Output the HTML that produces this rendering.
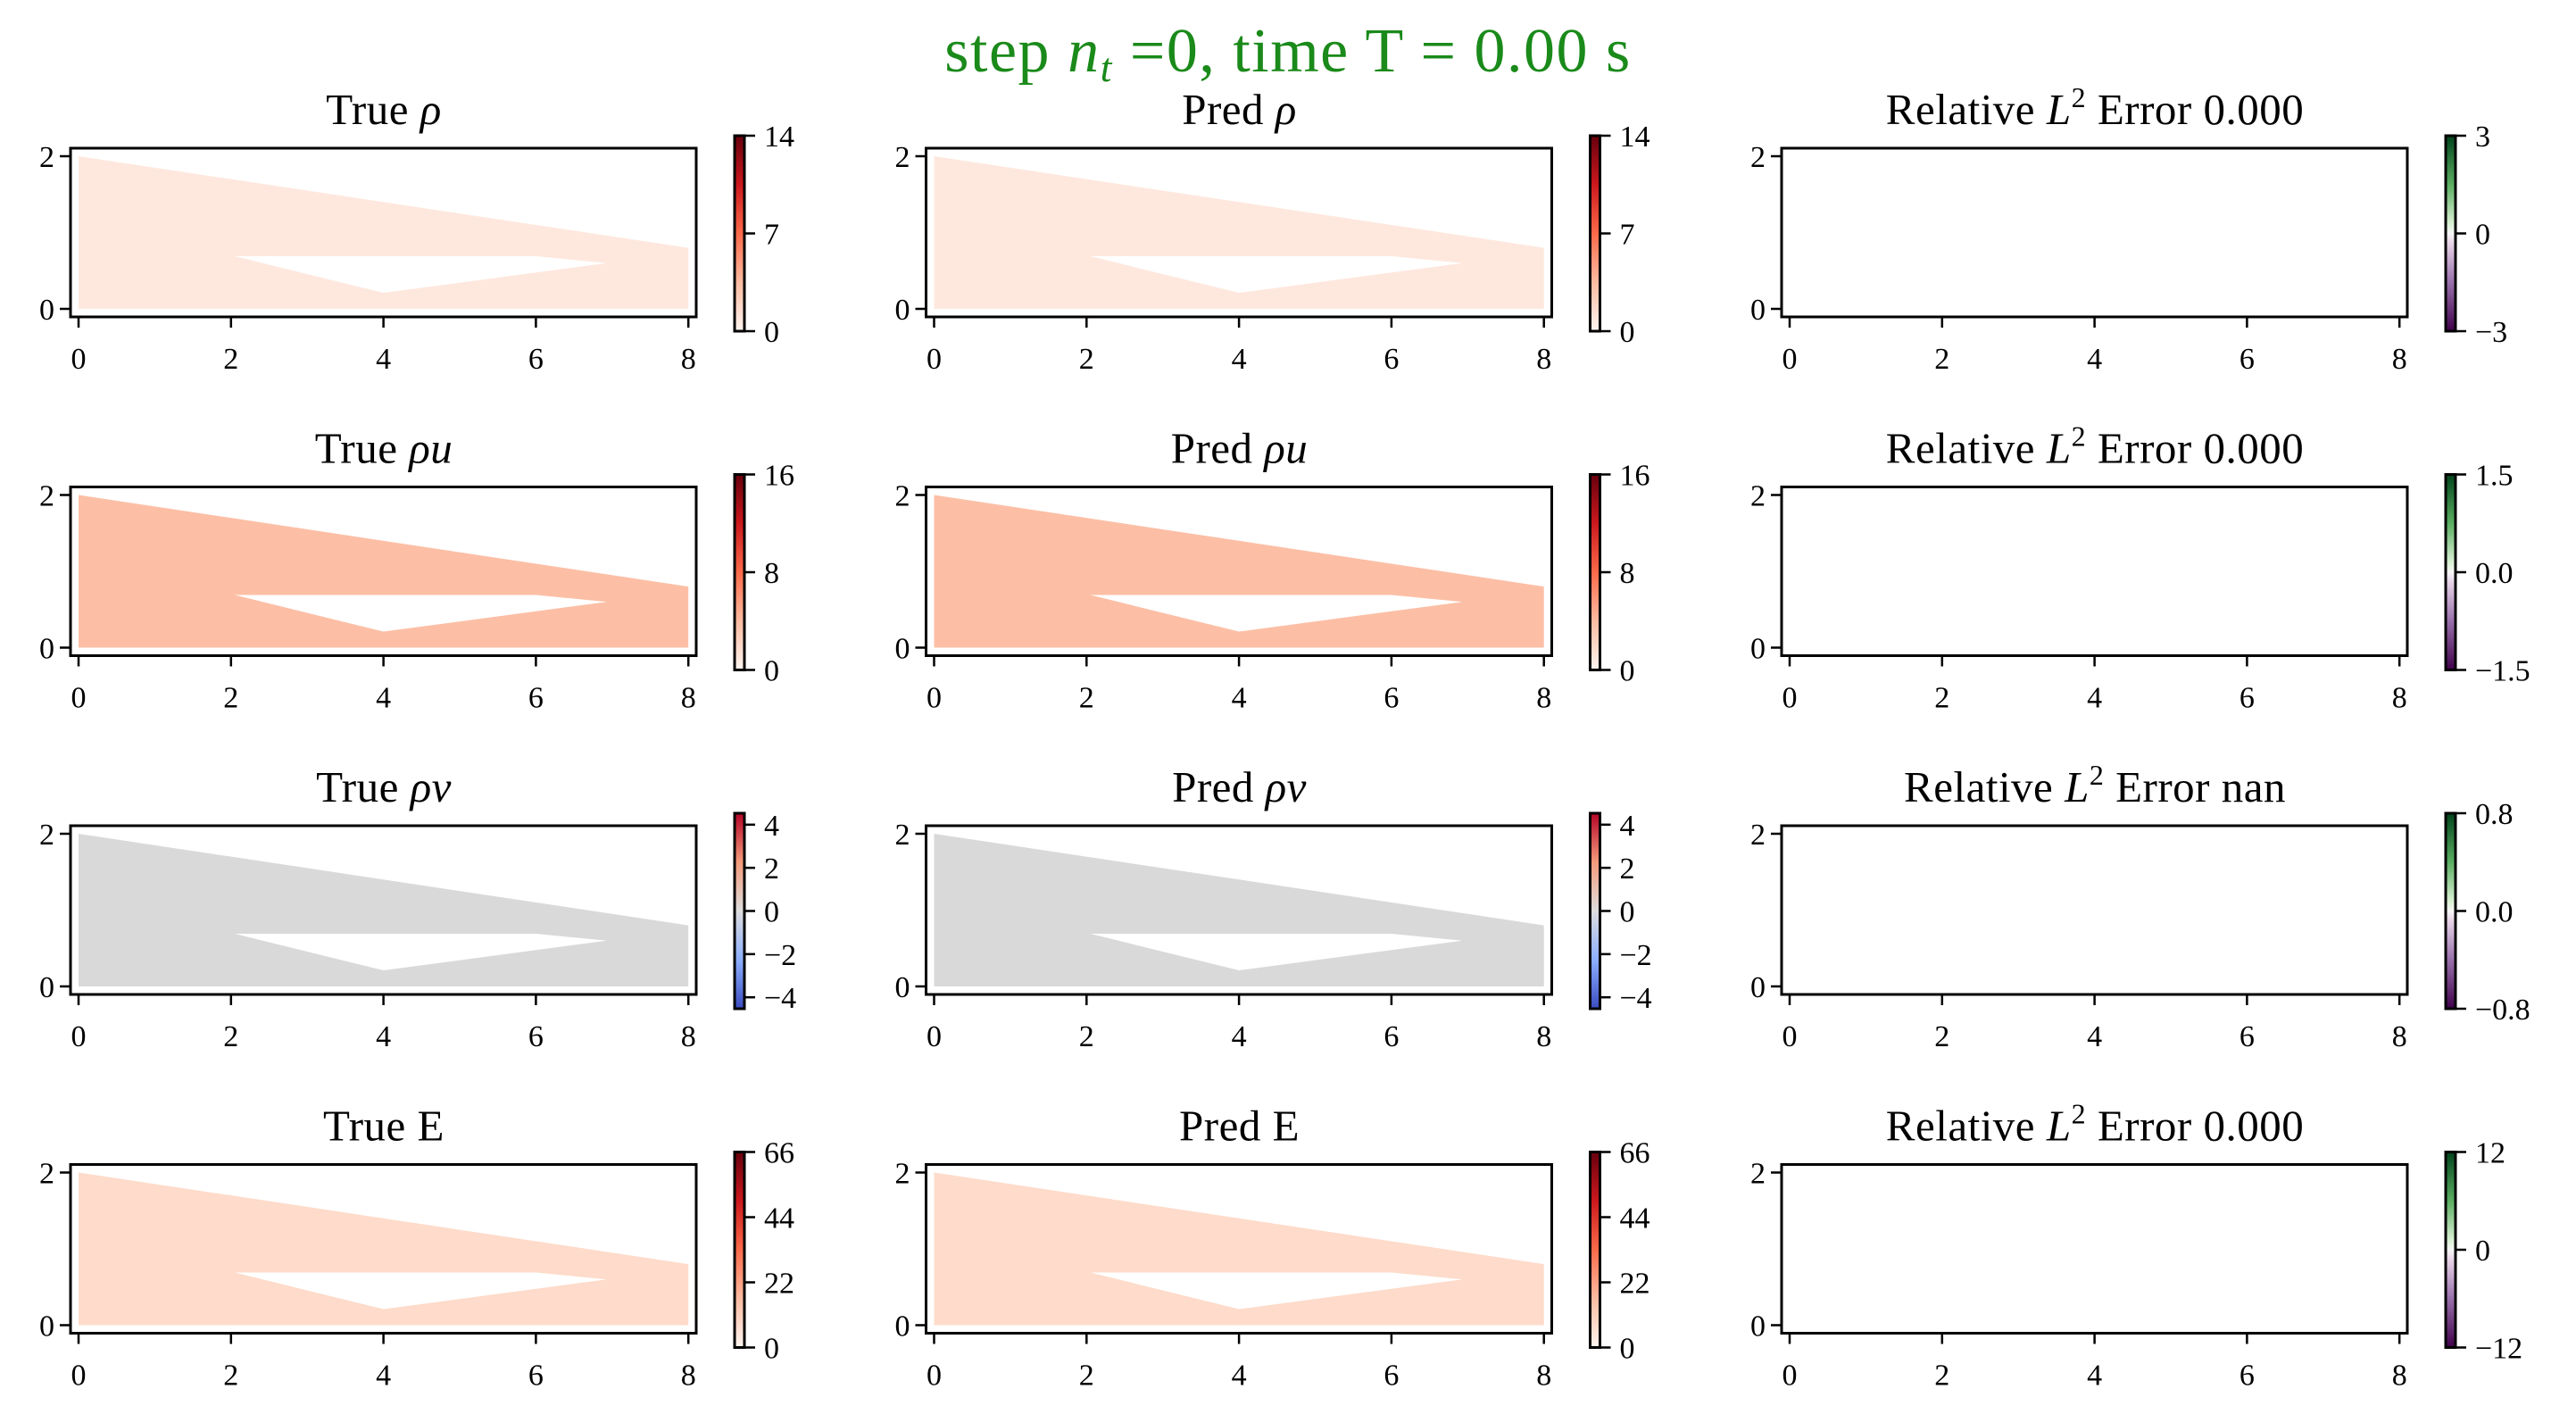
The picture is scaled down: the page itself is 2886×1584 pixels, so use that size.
<!DOCTYPE html>
<html><head><meta charset="utf-8"><style>
html,body{margin:0;padding:0;background:#fff;}
svg{display:block;font-family:"Liberation Serif",serif;}
</style></head><body>
<svg id="s" width="2886" height="1584" xmlns="http://www.w3.org/2000/svg">
<defs>
<linearGradient id="reds" x1="0" y1="1" x2="0" y2="0">
<stop offset="0" stop-color="#fff5f0"/><stop offset="0.25" stop-color="#fcbba1"/><stop offset="0.5" stop-color="#fb6a4a"/><stop offset="0.75" stop-color="#cb181d"/><stop offset="1" stop-color="#67000d"/></linearGradient>
<linearGradient id="prgn" x1="0" y1="1" x2="0" y2="0">
<stop offset="0" stop-color="#40004b"/><stop offset="0.25" stop-color="#9970ab"/><stop offset="0.45" stop-color="#e7d4e8"/><stop offset="0.5" stop-color="#f7f7f7"/><stop offset="0.55" stop-color="#d9f0d3"/><stop offset="0.75" stop-color="#5aae61"/><stop offset="1" stop-color="#00441b"/></linearGradient>
<linearGradient id="cw" x1="0" y1="1" x2="0" y2="0">
<stop offset="0" stop-color="#3b4cc0"/><stop offset="0.25" stop-color="#8db0fe"/><stop offset="0.5" stop-color="#dddddd"/><stop offset="0.75" stop-color="#f49a7b"/><stop offset="1" stop-color="#b40426"/></linearGradient>
</defs>
<text x="1443" y="80" font-size="70" fill="#1a8a1a" text-anchor="middle" letter-spacing="1.5">step <tspan font-style="italic">n</tspan><tspan font-style="italic" font-size="46" dy="11">t</tspan><tspan dy="-11"> =0, time T = 0.00 s</tspan></text>
</svg>
<script>
var s=document.getElementById('s'),h='';
var colL=[79,1037.5,1996],rowT=[166,545.5,925,1304.5],W=701,H=189;
var names=[['True <tspan font-style="italic">ρ</tspan>','Pred <tspan font-style="italic">ρ</tspan>'],
['True <tspan font-style="italic">ρu</tspan>','Pred <tspan font-style="italic">ρu</tspan>'],
['True <tspan font-style="italic">ρv</tspan>','Pred <tspan font-style="italic">ρv</tspan>'],
['True E','Pred E']];
var errs=['0.000','0.000','nan','0.000'];
var fills=['#fee8de','#fcbfa6','#d9d9d9','#fedbca'];
var cbt=[[[0,7,14],0,14],[[0,8,16],0,16],[[-4,-2,0,2,4],-4.53,4.53],[[0,22,44,66],0,66]];
var cbe=[[[-3,0,3],-3,3],[['−1.5','0.0','1.5'],-1.5,1.5,[-1.5,0,1.5]],[['−0.8','0.0','0.8'],-0.8,0.8,[-0.8,0,0.8]],[[-12,0,12],-12,12]];
function lab(v){return typeof v==='number'?(v<0?'−'+(-v):''+v):v;}
for(var r=0;r<4;r++)for(var c=0;c<3;c++){
 var L=colL[c],T=rowT[r];
 var X=function(x){return L+9+x*85.4;},Y=function(y){return T+180-y*85.5;};
 var title=c<2?names[r][c]:'Relative <tspan font-style="italic">L</tspan><tspan font-size="32" dy="-19">2</tspan><tspan dy="19"> Error '+errs[r]+'</tspan>';
 h+='<text x="'+(L+351)+'" y="'+(T-27)+'" font-size="49" text-anchor="middle" letter-spacing="0.5">'+title+'</text>';
 if(c<2){
  var P=[[0,0],[0,2],[8,0.8],[8,0]].map(function(p){return X(p[0])+','+Y(p[1]);}).join(' ');
  var Q=[[2.05,0.69],[6,0.69],[6.93,0.6],[4,0.21]].map(function(p){return X(p[0])+','+Y(p[1]);}).join(' ');
  h+='<polygon points="'+P+'" fill="'+fills[r]+'"/><polygon points="'+Q+'" fill="#fff"/>';
 }
 h+='<rect x="'+L+'" y="'+T+'" width="'+W+'" height="'+H+'" fill="none" stroke="#000" stroke-width="3"/>';
 for(var i=0;i<=8;i+=2){var x=X(i);h+='<line x1="'+x+'" y1="'+(T+H)+'" x2="'+x+'" y2="'+(T+H+12)+'" stroke="#000" stroke-width="2.5"/><text x="'+x+'" y="'+(T+H+58)+'" font-size="34" text-anchor="middle">'+i+'</text>';}
 [0,2].forEach(function(i){var y=Y(i);h+='<line x1="'+(L-12)+'" y1="'+y+'" x2="'+L+'" y2="'+y+'" stroke="#000" stroke-width="2.5"/><text x="'+(L-18)+'" y="'+(y+12)+'" font-size="34" text-anchor="end">'+i+'</text>';});
 var cb=c<2?cbt[r]:cbe[r],grad=c==2?'prgn':(r==2?'cw':'reds');
 var cx=L+744,cy=T-14,ch=219,cw=11;
 h+='<rect x="'+cx+'" y="'+cy+'" width="'+cw+'" height="'+ch+'" fill="url(#'+grad+')" stroke="#000" stroke-width="3"/>';
 var vals=cb[3]||cb[0];
 for(var k=0;k<vals.length;k++){var v=vals[k];var y=cy+ch-(v-cb[1])/(cb[2]-cb[1])*ch;
  h+='<line x1="'+(cx+cw)+'" y1="'+y+'" x2="'+(cx+cw+12)+'" y2="'+y+'" stroke="#000" stroke-width="2.5"/><text x="'+(cx+cw+22)+'" y="'+(y+12)+'" font-size="34">'+lab(cb[0][k])+'</text>';}
}
s.insertAdjacentHTML('beforeend',h);
</script>
</body></html>
